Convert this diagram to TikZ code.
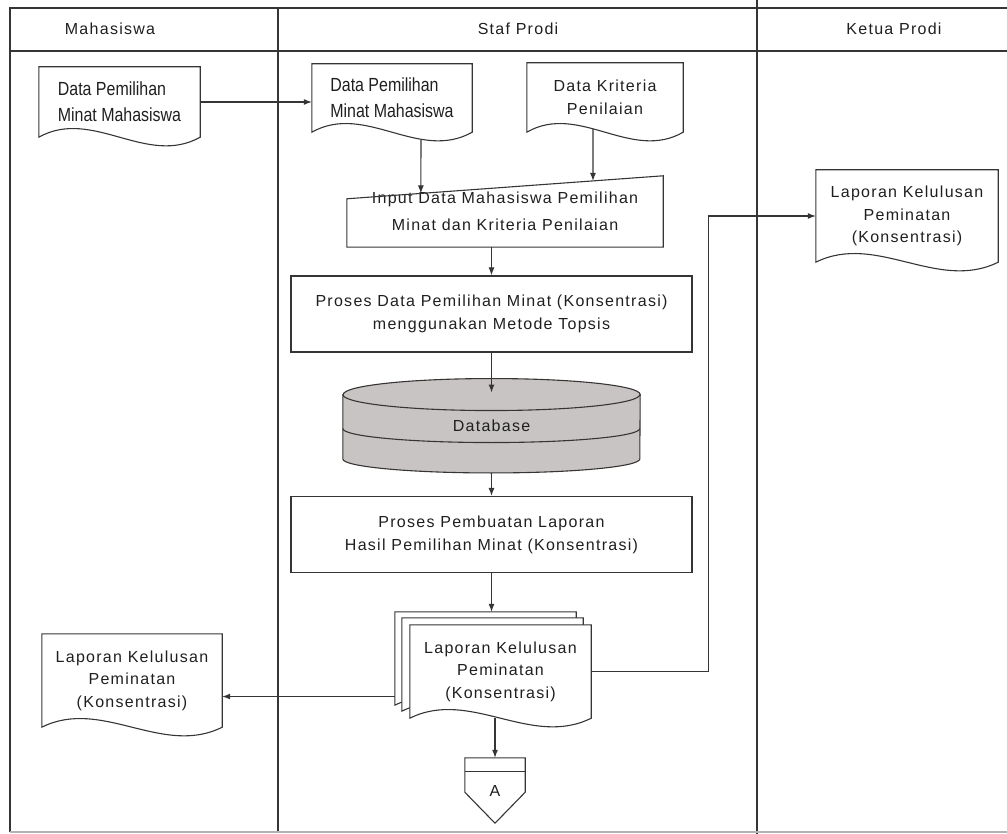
\documentclass[tikz,border=0pt]{standalone}
\usepackage{fontspec}
\usepackage{tikz}
\usetikzlibrary{positioning}
\usetikzlibrary{calc, arrows.meta}
\usetikzlibrary{backgrounds}
\setmainfont{Liberation Sans}
\newfontfamily\spacedfont[LetterSpace=8]{Liberation Sans}
\newfontfamily\narrowfont[FakeStretch=0.84]{Liberation Sans}
\newcommand{\boxfont}{\spacedfont\fontsize{16}{23}\selectfont}
\newcommand{\docfont}{\narrowfont\fontsize{19}{26}\selectfont}
\definecolor{dbgray}{RGB}{200,196,196}
\definecolor{inkgray}{RGB}{55,53,51}
% outline of a document symbol round a node
\newcommand{\docwave}[2][]{%
  \draw[docline, #1] (#2.south west) -- (#2.north west) -- (#2.north east) -- (#2.south east)
    .. controls ($(#2.south east)!0.333!(#2.south west)+(0pt,-30pt)$)
    and ($(#2.south east)!0.667!(#2.south west)+(0pt,30pt)$) .. (#2.south west) -- cycle;}

\begin{document}
\begin{tikzpicture}[align=center, x=1pt, y=-1pt, inner sep=0pt, text=black!88]
        \boxfont
       \tikzstyle{lane} = [draw=inkgray, line width=1.2pt]
       \tikzstyle{docline} = [draw=inkgray, line width=1.1pt]
       \tikzstyle{doc} = [
            rectangle,
            inner sep=0pt
       ]
       \tikzstyle{procbox} = [
            rectangle,
            draw=inkgray,
            line width=1.1pt,
            minimum width=401pt,
            minimum height=76pt
       ]
       \tikzstyle{arrow} = [draw=inkgray, line width=1.1pt, -{Latex[length=8pt, width=6pt]}]
       \useasboundingbox (0,0) rectangle (1007,834);

       % swimlanes
       \draw[lane] (10,832) -- (10,8) -- (1007,8);
       \draw[lane] (10,51) -- (1007,51);
       \draw[lane] (278,8) -- (278,832);
       \draw[lane] (757,0) -- (757,834);
       \draw[lane, draw=gray!60] (10,832) -- (1007,832);
       \node (mhsHead) at (110,29) {Mahasiswa};
       \node (stafHead) at (518,29) {Staf Prodi};
       \node (ketuaHead) at (894,29) {Ketua Prodi};

       \node (mhsData) [doc, minimum width=161pt, minimum height=70pt, align=left, font=\docfont] at (119.5,102) {Data Pemilihan\\Minat Mahasiswa};
       \node (stafData) [doc, minimum width=160pt, minimum height=68pt, align=left, font=\docfont] at (392,98) {Data Pemilihan\\Minat Mahasiswa};
       \node (kriteria) [doc, minimum width=156pt, minimum height=69pt] at (605,97.5) {Data Kriteria\\Penilaian};
       \node (inputData) [doc, minimum width=316pt, minimum height=71pt, font={\spacedfont\fontsize{16}{27}\selectfont}] at (505,211.5) {Input Data Mahasiswa Pemilihan\\Minat dan Kriteria Penilaian};
       \node (topsis) [procbox] at (491.5,314) {Proses Data Pemilihan Minat (Konsentrasi)\\menggunakan Metode Topsis};
       \node (database) [doc, minimum width=297pt, minimum height=94pt, below=26pt of topsis] {Database};
       \node (laporan) [procbox, below=23pt of database] {Proses Pembuatan Laporan\\Hasil Pemilihan Minat (Konsentrasi)};

       \node (laporanMulti) [doc, minimum width=181pt, minimum height=93pt, font={\spacedfont\fontsize{16}{22.5}\selectfont}] at (500.5,671.5) {Laporan Kelulusan\\Peminatan\\(Konsentrasi)};
       \node (laporanMid) [doc, minimum width=181pt, minimum height=93pt] at ([xshift=-8pt,yshift=7pt]laporanMulti.center) {};
       \node (laporanBack) [doc, minimum width=181pt, minimum height=93pt] at ([xshift=-15pt,yshift=13pt]laporanMulti.center) {};
       \node (laporanMhs) [doc, minimum width=180pt, minimum height=93pt, font={\spacedfont\fontsize{16}{22.5}\selectfont}] at (132,680.5) {Laporan Kelulusan\\Peminatan\\(Konsentrasi)};
       \node (laporanKetua) [doc, minimum width=182pt, minimum height=92pt, font={\spacedfont\fontsize{16}{22.5}\selectfont}] at (907,216) {Laporan Kelulusan\\Peminatan\\(Konsentrasi)};
       \node (connA) [doc, minimum width=60pt, minimum height=65pt] at (495,790.5) {A};

       % shapes round the nodes
       \docwave{mhsData}
       \docwave{stafData}
       \docwave{kriteria}
       \docwave{laporanMhs}
       \docwave{laporanKetua}
       \draw[docline] (inputData.south west) -- ([yshift=-23pt]inputData.north west) -- (inputData.north east) -- (inputData.south east) -- cycle;
       \draw[docline] (connA.north west) -- (connA.north east) -- ([yshift=31pt]connA.south east) -- (connA.south) -- ([yshift=31pt]connA.south west) -- cycle;
       \draw[docline] ([yshift=-14pt]connA.north west) -- ([yshift=-14pt]connA.north east);
       \begin{scope}[on background layer]
        \filldraw[docline, fill=dbgray] ([yshift=-16pt]database.north west) -- ([yshift=14pt]database.south west)
            arc[start angle=180, end angle=360, x radius=148.5pt, y radius=14pt]
            -- ([yshift=-16pt]database.north east)
            arc[start angle=0, end angle=180, x radius=148.5pt, y radius=16pt] -- cycle;
        \draw[docline] ([yshift=-16pt]database.north west) arc[start angle=180, end angle=360, x radius=148.5pt, y radius=16pt];
        \draw[docline] ([yshift=-50pt]database.north west) arc[start angle=180, end angle=360, x radius=148.5pt, y radius=14pt];
        \docwave[fill=white]{laporanBack}
        \docwave[fill=white]{laporanMid}
        \docwave[fill=white]{laporanMulti}
       \end{scope}

       \draw[arrow] (mhsData.east) -- (mhsData.east -| stafData.west);
       \draw[arrow] ([xshift=29pt,yshift=-8pt]stafData.south) -- ($([yshift=-23pt]inputData.north west)!0.234!(inputData.north east)$);
       \draw[arrow] ([xshift=-12pt,yshift=3pt]kriteria.south) -- ($([yshift=-23pt]inputData.north west)!0.778!(inputData.north east)$);
       \draw[arrow] (topsis.north |- inputData.south) -- (topsis.north);
       \draw[arrow] (topsis.south) -- ([yshift=-14pt]database.north);
       \draw[arrow] (database.south) -- (laporan.north);
       \draw[arrow] (laporan.south) -- (laporan.south |- laporanBack.north);
       \draw[arrow] ($(laporanBack.west |- laporanMhs.east)+(0pt,-16pt)$) -- ($(laporanMhs.east)+(0pt,-16pt)$);
       \draw[arrow] (laporanMulti.east) -- ++(117,0) |- (laporanKetua.west);
       \draw[arrow] (connA.north |- laporanMulti.south) -- (connA.north);
    \end{tikzpicture}
\end{document}
